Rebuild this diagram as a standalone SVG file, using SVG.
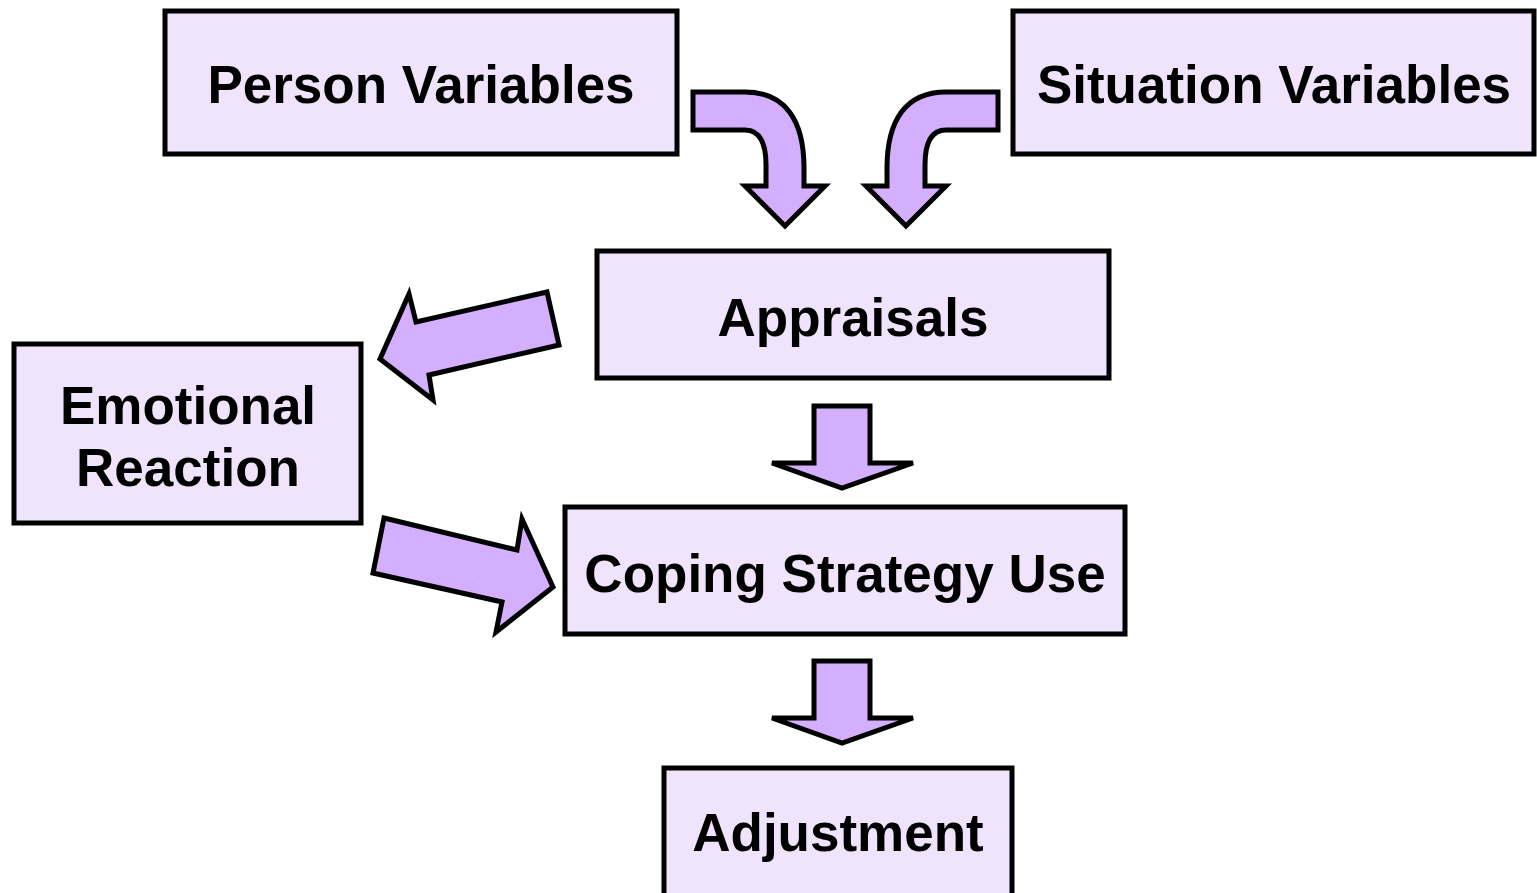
<svg xmlns="http://www.w3.org/2000/svg" width="1537" height="893" viewBox="0 0 1537 893">
<style>
.box{fill:#F0E3FC;stroke:#000;stroke-width:5}
.arr{fill:#D4AFFD;stroke:#000;stroke-width:5;stroke-linejoin:miter}
.t{font-family:"Liberation Sans",Arial,sans-serif;font-weight:bold;font-size:53px;fill:#000;text-anchor:middle}
</style>
<rect width="1537" height="893" fill="#fff"/>
<g id="person"><rect class="box" x="165" y="11" width="512" height="143"/><text class="t" x="421" y="103">Person Variables</text></g>
<g id="situation"><rect class="box" x="1013" y="11" width="521" height="143"/><text class="t" x="1274" y="103">Situation Variables</text></g>
<g id="appraisals"><rect class="box" x="597" y="251" width="512" height="127"/><text class="t" x="853" y="336">Appraisals</text></g>
<g id="emotional"><rect class="box" x="14" y="344" width="347" height="179"/><text class="t" x="188" y="424">Emotional</text><text class="t" x="188" y="486">Reaction</text></g>
<g id="coping"><rect class="box" x="565" y="507" width="560" height="127"/><text class="t" x="845" y="592">Coping Strategy Use</text></g>
<g id="adjustment"><rect class="box" x="664" y="768" width="348" height="130"/><text class="t" x="838" y="851">Adjustment</text></g>
<g id="connectors">
<path class="arr" d="M693 92 L745 92 C785 92 804 120 804 168 L804 186 L825 186 L785 226 L745 186 L766 186 L766 165 C766 140 758 130 745 130 L693 130 Z"/>
<path class="arr" d="M998 92 L946 92 C906 92 887 120 887 168 L887 186 L866 186 L906 226 L946 186 L925 186 L925 165 C925 140 933 130 946 130 L998 130 Z"/>
<path class="arr" d="M547 292 L416 322 L409 294 L380 359 L433 400 L429 375 L559 345 Z"/>
<path class="arr" d="M384 518 L517 550 L522 519 L553 587 L496 632 L502 602 L373 573 Z"/>
<path class="arr" d="M814 406 L870 406 L870 463 L913 463 L842 488 L772 463 L814 463 Z"/>
<path class="arr" d="M814 661 L870 661 L870 718 L913 718 L842 743 L772 718 L814 718 Z"/>
</g>
</svg>
